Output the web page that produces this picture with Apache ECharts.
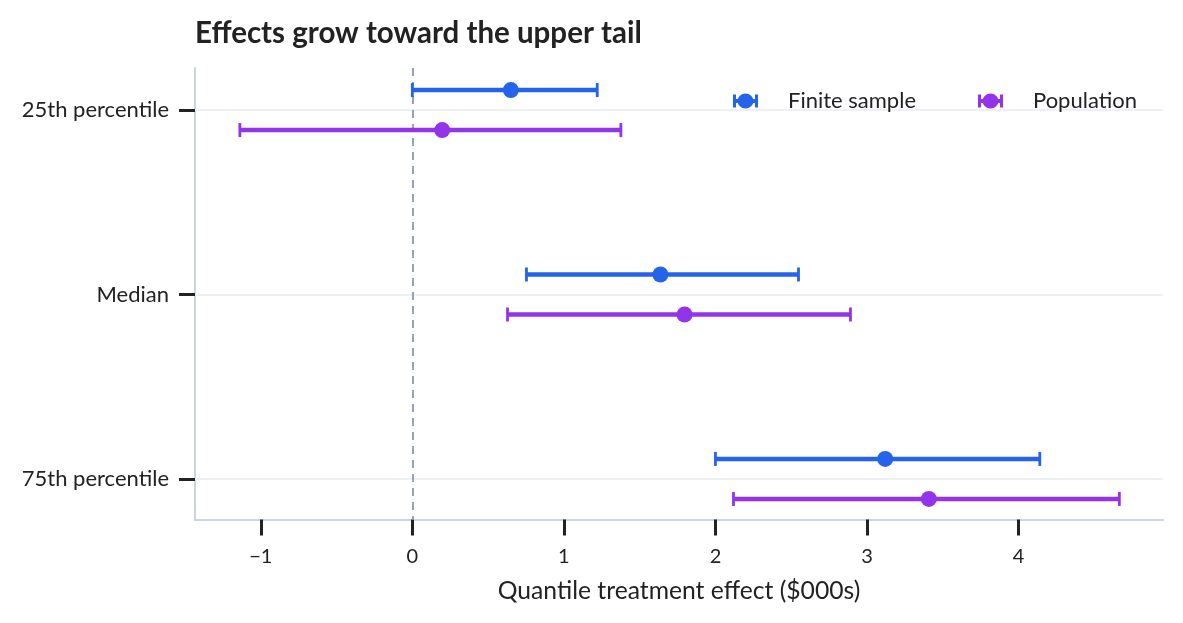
<!DOCTYPE html>
<html>
<head>
<meta charset="utf-8">
<script src="https://cdn.jsdelivr.net/npm/echarts@6/dist/echarts.min.js"></script>
<style>html,body{margin:0;padding:0;background:#fff}#c{width:1183px;height:623px}</style>
</head>
<body>
<div id="c"></div>
<script>
var categories = ['25th percentile', 'Median', '75th percentile'];
var seriesNames = ['Finite sample', 'Population'];
var finiteEst = [0.65, 1.637, 3.12];
var finiteLo = [0.0, 0.753, 2.0];
var finiteHi = [1.22, 2.548, 4.14];
var popEst = [0.197, 1.796, 3.408];
var popLo = [-1.138, 0.628, 2.119];
var popHi = [1.376, 2.891, 4.665];
var xTicks = [-1, 0, 1, 2, 3, 4];
var yTicks = [0, 1, 2];

var colors = ['#2563eb', '#9333ea'];
var FONT = 'Lato';

function rows(lo, est, hi) {
  return categories.map(function (c, i) { return [i, lo[i], est[i], hi[i]]; });
}

function makeRender(offset, color) {
  return function (params, api) {
    var cat = api.value(0);
    var pLo = api.coord([api.value(1), cat]);
    var pE = api.coord([api.value(2), cat]);
    var pHi = api.coord([api.value(3), cat]);
    var y = pLo[1] + offset;
    return {
      type: 'group',
      children: [
        { type: 'line', shape: { x1: pLo[0], y1: y, x2: pHi[0], y2: y }, style: { stroke: color, lineWidth: 4.5 } },
        { type: 'line', shape: { x1: pLo[0], y1: y - 7, x2: pLo[0], y2: y + 7 }, style: { stroke: color, lineWidth: 2.8 } },
        { type: 'line', shape: { x1: pHi[0], y1: y - 7, x2: pHi[0], y2: y + 7 }, style: { stroke: color, lineWidth: 2.8 } },
        { type: 'circle', shape: { cx: pE[0], cy: y, r: 8 }, style: { fill: color } }
      ]
    };
  };
}

var legendIcon = 'path://M0,1 L3,1 L3,14 L0,14 Z M22,1 L25,1 L25,14 L22,14 Z M0,5.5 L25,5.5 L25,9.5 L0,9.5 Z M4.5,7.5 A8,7.5 0 1,1 20.5,7.5 A8,7.5 0 1,1 4.5,7.5 Z';

var chart = echarts.init(document.getElementById('c'));
chart.setOption({
  animation: false,
  backgroundColor: '#ffffff',
  title: {
    text: 'Effects grow toward the upper tail',
    left: 190, top: 13,
    textStyle: { fontFamily: FONT, fontSize: 29.5, fontWeight: 'bold', color: '#222' }
  },
  legend: {
    left: 728, top: 82, z: 20, zlevel: 1,
    itemWidth: 25, itemHeight: 15, itemGap: 62,
    icon: legendIcon,
    formatter: function (name) { return '{g|}' + name; },
    textStyle: { fontFamily: FONT, fontSize: 22, lineHeight: 28, color: '#222', rich: { g: { width: 25 } } },
    data: [
      { name: seriesNames[0], itemStyle: { color: colors[0] } },
      { name: seriesNames[1], itemStyle: { color: colors[1] } }
    ]
  },
  grid: { left: 195, right: 20, top: 68, bottom: 103.5 },
  xAxis: {
    type: 'value', min: -1.434, max: 4.953,
    name: 'Quantile treatment effect ($000s)', nameLocation: 'middle', nameGap: 59,
    nameTextStyle: { fontFamily: FONT, fontSize: 24.7, color: '#222' },
    axisLine: { show: true, onZero: false, lineStyle: { color: '#cbd5e1', width: 2 } },
    axisTick: { show: true, customValues: xTicks, length: 16, lineStyle: { color: '#222', width: 3 } },
    axisLabel: {
      customValues: xTicks, margin: 27, fontFamily: FONT, fontSize: 20, color: '#222',
      formatter: function (v) { return v < 0 ? '\u2212' + Math.abs(v) : String(v); }
    },
    splitLine: { show: false }
  },
  yAxis: {
    type: 'value', inverse: true, min: -0.228, max: 2.22,
    axisLine: { show: true, onZero: false, lineStyle: { color: '#cbd5e1', width: 2 } },
    axisTick: { show: true, customValues: yTicks, length: 16, lineStyle: { color: '#222', width: 3 } },
    axisLabel: {
      customValues: yTicks, margin: 26, fontFamily: FONT, fontSize: 22, color: '#222',
      formatter: function (v) { return categories[Math.round(v)]; }
    },
    splitLine: { show: false }
  },
  series: [
    {
      type: 'line', data: [], z: 1, silent: true,
      markLine: {
        silent: true, symbol: 'none', label: { show: false },
        data: yTicks.map(function (t) { return { yAxis: t, lineStyle: { color: '#edf1f5', width: 2, type: 'solid' } }; })
          .concat([{ xAxis: 0, lineStyle: { color: '#94a3b8', width: 2, type: [8, 6] } }])
      }
    },
    {
      name: seriesNames[0], type: 'custom', z: 5,
      renderItem: makeRender(-20, colors[0]),
      encode: { x: [1, 2, 3], y: 0 },
      itemStyle: { color: colors[0] },
      data: rows(finiteLo, finiteEst, finiteHi)
    },
    {
      name: seriesNames[1], type: 'custom', z: 5,
      renderItem: makeRender(20, colors[1]),
      encode: { x: [1, 2, 3], y: 0 },
      itemStyle: { color: colors[1] },
      data: rows(popLo, popEst, popHi)
    }
  ]
});
</script>
</body>
</html>
